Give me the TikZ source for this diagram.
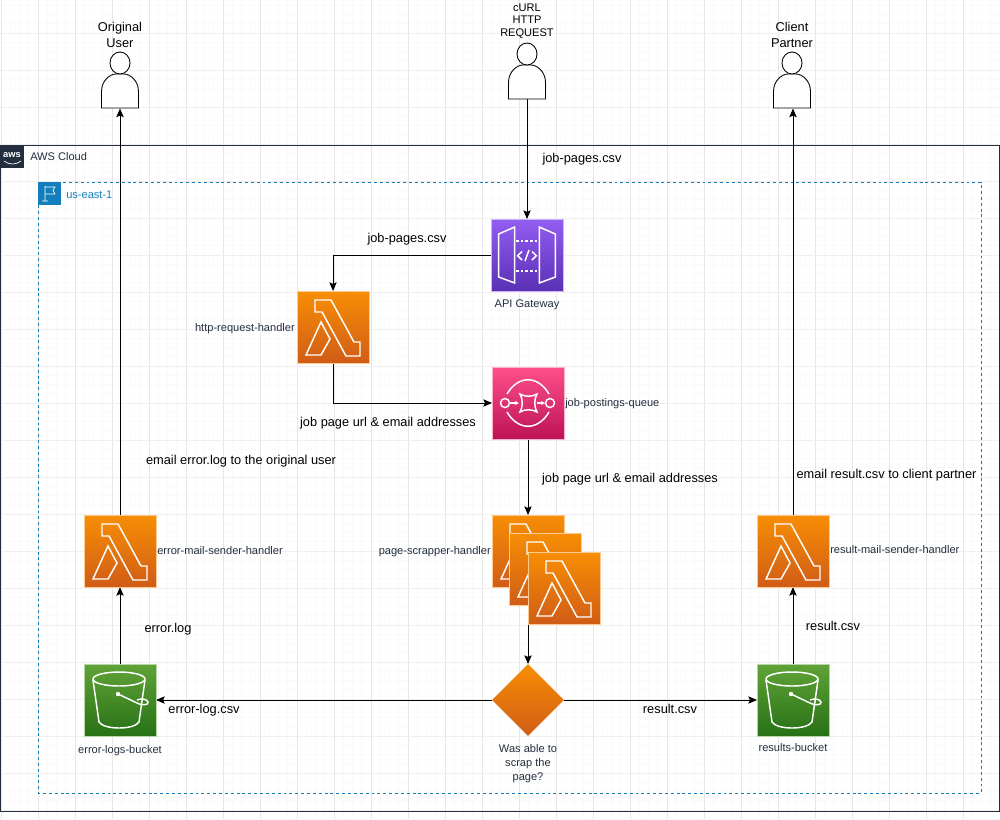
\documentclass[tikz,border=0pt]{standalone}
\usepackage{fontspec}
\setmainfont{Liberation Sans}
\usetikzlibrary{arrows.meta,shapes.geometric}
\definecolor{awsdark}{HTML}{232F3E}
\definecolor{regionblue}{HTML}{147EBA}
\definecolor{gridv}{HTML}{E6E6E6}
\definecolor{gridh}{HTML}{F0F0F0}
\definecolor{gridminor}{HTML}{FAFAFA}
\definecolor{orange1}{HTML}{F78E04}
\definecolor{orange2}{HTML}{D05C17}
\definecolor{purple1}{HTML}{945DF2}
\definecolor{purple2}{HTML}{5A30B5}
\definecolor{pink1}{HTML}{FF4F8B}
\definecolor{pink2}{HTML}{BC1356}
\definecolor{green1}{HTML}{60A337}
\definecolor{green2}{HTML}{277116}
\tikzset{
  x=0.75pt,y=-0.75pt,
  flow/.style={draw=black,line width=0.65pt,-{Stealth[length=6.5pt,width=5.5pt,inset=1.2pt]}},
  lab/.style={font=\fontsize{9.6}{12}\selectfont,text=black,inner sep=0pt,align=center},
  smalllab/.style={font=\fontsize{8.3}{10.6}\selectfont,text=awsdark,inner sep=0pt,align=center},
  iconbox/.style={rectangle,minimum width=54pt,minimum height=54pt,inner sep=0pt,outer sep=0pt},
  lambdabox/.style={iconbox,top color=orange1,bottom color=orange2,draw=orange1!45!white,line width=0.3pt},
  apibox/.style={iconbox,top color=purple1,bottom color=purple2,draw=purple1!45!white,line width=0.3pt},
  sqsbox/.style={iconbox,top color=pink1,bottom color=pink2,draw=pink1!45!white,line width=0.3pt},
  s3box/.style={iconbox,top color=green1,bottom color=green2,draw=green1!45!white,line width=0.3pt},
  personbox/.style={rectangle,minimum width=27.75pt,minimum height=42.75pt,inner sep=0pt,outer sep=0pt},
  glyph/.style={draw=white,line width=1.1pt,line join=miter},
  lambdaglyph/.pic={
    \draw[glyph] (18,9)--(34,9)--(57,51)--(63,51)--(63,65)--(49,65)--(25,21)--(18,21)--cycle;
    \draw[glyph] (24,31)--(33,48)--(24,64)--(9,64)--cycle;
  },
  apiglyph/.pic={
    \draw[glyph] (7.7,15)--(23.7,8)--(23.7,64)--(7.7,58)--cycle;
    \draw[glyph] (48.3,8)--(64.3,15)--(64.3,58)--(48.3,64)--cycle;
    \draw[glyph,dash pattern=on 2pt off 1.5pt] (25,22)--(48,22);
    \draw[glyph,dash pattern=on 2pt off 1.5pt] (25,52)--(48,52);
    \draw[glyph] (31,32.5)--(26.7,36.7)--(31,41);
    \draw[glyph] (41,32.5)--(45.3,36.7)--(41,41);
    \draw[glyph] (34,42)--(38,31);
  },
  sqsglyph/.pic={
    \draw[glyph] (13,36) circle[radius=4.5];
    \draw[glyph] (58,36) circle[radius=4.5];
    \draw[glyph] (15,27) .. controls (26,8) and (46,8) .. (57,27);
    \draw[glyph] (15,45) .. controls (26,64) and (46,64) .. (57,45);
    \draw[glyph] (28,27) .. controls (33,30) and (40,30) .. (45,27)
      .. controls (42,32) and (42,40) .. (45,45)
      .. controls (40,42) and (33,42) .. (28,45)
      .. controls (31,40) and (31,32) .. (28,27) -- cycle;
    \draw[glyph,-{Stealth[length=3pt,width=3pt]}] (18,36)--(27,36);
    \draw[glyph,-{Stealth[length=3pt,width=3pt]}] (45,36)--(53,36);
  },
  bucketglyph/.pic={
    \draw[glyph] (35,15) ellipse[x radius=26,y radius=7];
    \draw[glyph] (9,16) -- (15,58) .. controls (20,66) and (50,66) .. (55,58) -- (61,16);
    \fill[white] (34,30) circle[radius=2.2];
    \draw[glyph] (34,30) -- (53,39) .. controls (58,42) and (65,41) .. (64,38)
       .. controls (63,35) and (57,34) .. (53,36);
  },
  personglyph/.pic={
    \draw[draw=black,fill=white,line width=0.65pt] (-18.5,28.5) -- (-18.5,12)
       .. controls (-18.5,1) and (-10,-5.5) .. (-4,-5.5) -- (4,-5.5)
       .. controls (10,-5.5) and (18.5,1) .. (18.5,12) -- (18.5,28.5) -- cycle;
    \draw[draw=black,fill=white,line width=0.65pt] (0,-16.5) ellipse[x radius=10,y radius=11];
  },
}
\begin{document}
\begin{tikzpicture}
\useasboundingbox (0,0) rectangle (1000,819);
\fill[white] (0,0) rectangle (1000,819);
% grid
\foreach \k in {0,...,108}{\draw[gridminor,line width=0.5pt] ({1+9.25*\k},0)--({1+9.25*\k},819);}
\foreach \k in {0,...,88}{\draw[gridminor,line width=0.5pt] (0,{5.25+9.25*\k})--(1000,{5.25+9.25*\k});}
\foreach \k in {0,...,27}{\draw[gridv,line width=0.6pt] ({1+37*\k},0)--({1+37*\k},819);}
\foreach \k in {0,...,21}{\draw[gridh,line width=0.75pt] (0,{33+37*\k})--(1000,{33+37*\k});}
% containers
\draw[awsdark,line width=0.7pt] (0.5,145)--(999.5,145)--(999.5,811)--(0.5,811)--cycle;
\draw[regionblue,line width=0.6pt,dash pattern=on 2.2pt off 2.2pt] (38,182) rectangle (981,793);
\fill[awsdark] (0,145) rectangle (24,168);
\node[inner sep=0pt,text=white,font=\bfseries\fontsize{7}{7}\selectfont] (awslogo) at (12,155) {aws};
\draw[white,line width=0.5pt] (4,161) .. controls (9,165) and (16,165) .. (21,161);
\fill[regionblue] (38,182) rectangle (61,205);
\draw[white,line width=0.5pt] (45,186)--(45,201) (42,201)--(48,201) (45,187)--(55,187)--(53,190)--(55,194)--(45,194);
\node[smalllab,anchor=west] (awscloud) at (30,157) {AWS Cloud};
\node[smalllab,anchor=west,text=regionblue] (region) at (66,195) {us-east-1};
% anchor nodes for the connectors
\node[personbox] (puser) at (120,80) {};
\node[personbox] (pcurl) at (527,70.5) {};
\node[personbox] (pclient) at (793,80) {};
\node[iconbox] (api) at (527,255) {};
\node[iconbox] (http) at (333,327) {};
\node[iconbox] (sqs) at (528,403) {};
\node[iconbox] (page) at (528,551) {};
\node[iconbox] (errmail) at (120,551) {};
\node[iconbox] (resmail) at (793,551) {};
\node[iconbox] (errbucket) at (120,700) {};
\node[iconbox] (resbucket) at (793,700) {};
\node[diamond,minimum width=54pt,minimum height=54pt,inner sep=0pt,outer sep=0pt] (choice) at (528,700) {};
% connectors
\draw[flow] (pcurl.south) -- (pcurl.south |- api.north);
\draw[flow] (api.west) -| (http.north);
\draw[flow] (http.south) |- (sqs.west);
\draw[flow] (sqs.south) -- (page.north);
\draw[flow] (page.south) -- (choice.north);
\draw[flow] (choice.west) -- (errbucket.east);
\draw[flow] (choice.east) -- (resbucket.west);
\draw[flow] (errbucket.north) -- (errmail.south);
\draw[flow] (resbucket.north) -- (resmail.south);
\draw[flow] (errmail.north) -- (puser.south);
\draw[flow] (resmail.north) -- (pclient.south);
% persons
\pic at (120,79.5) {personglyph};
\pic at (527,70.5) {personglyph};
\pic at (792,79.5) {personglyph};
% icons
\node[apibox] (apibg) at (api) {};
\pic at (491,219) {apiglyph};
\node[lambdabox] (httpbg) at (http) {};
\pic at (297,291) {lambdaglyph};
\node[sqsbox] (sqsbg) at (sqs) {};
\pic at (492,367) {sqsglyph};
\node[lambdabox] (pagebg) at (page) {};
\pic at (492,515) {lambdaglyph};
\node[lambdabox] (pagetwo) at (545,569) {};
\pic at (509,533) {lambdaglyph};
\node[lambdabox] (pagethree) at (564,588) {};
\pic at (528,552) {lambdaglyph};
\node[lambdabox] (errmailbg) at (errmail) {};
\pic at (84,515) {lambdaglyph};
\node[lambdabox] (resmailbg) at (resmail) {};
\pic at (757,515) {lambdaglyph};
\node[s3box] (errbucketbg) at (errbucket) {};
\pic at (84,664) {bucketglyph};
\node[s3box] (resbucketbg) at (resbucket) {};
\pic at (757,664) {bucketglyph};
\node[diamond,minimum width=54pt,minimum height=54pt,inner sep=0pt,top color=orange1,bottom color=orange2] (choicebg) at (choice) {};
% labels
\node[lab] (t1) at (120,35) {Original\\User};
\node[lab,font=\fontsize{8.3}{9.4}\selectfont] (t2) at (527,21) {cURL\\HTTP\\REQUEST};
\node[lab] (t3) at (792,35) {Client\\Partner};
\node[lab] (t4) at (582,159) {job-pages.csv};
\node[lab] (t5) at (407,239) {job-pages.csv};
\node[lab] (t6) at (388,423) {job page url \& email addresses};
\node[lab] (t7) at (630,479) {job page url \& email addresses};
\node[lab] (t8) at (241,461) {email error.log to the original user};
\node[lab] (t9) at (886.5,475) {email result.csv to client partner};
\node[lab] (t10) at (168,629) {error.log};
\node[lab] (t11) at (833,626) {result.csv};
\node[lab] (t12) at (204,710) {error-log.csv};
\node[lab] (t13) at (670,709) {result.csv};
\node[smalllab] (s1) at (527,305) {API Gateway};
\node[smalllab,anchor=east] (s2) at (295,329) {http-request-handler};
\node[smalllab,anchor=west] (s3) at (565,404) {job-postings-queue};
\node[smalllab,anchor=west] (s4) at (157,550.5) {error-mail-sender-handler};
\node[smalllab,anchor=east] (s5) at (491,552) {page-scrapper-handler};
\node[smalllab,anchor=west] (s6) at (830,550) {result-mail-sender-handler};
\node[smalllab] (s7) at (120,751) {error-logs-bucket};
\node[smalllab] (s8) at (793,748) {results-bucket};
\node[smalllab] (s9) at (528,763.5) {Was able to\\scrap the\\page?};
\end{tikzpicture}
\end{document}
